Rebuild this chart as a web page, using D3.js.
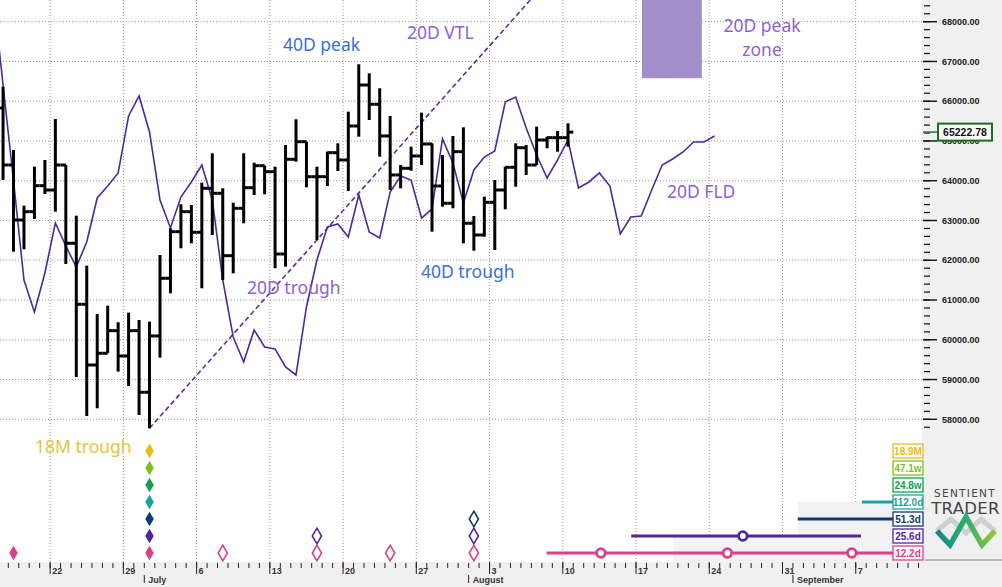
<!DOCTYPE html>
<html>
<head>
<meta charset="utf-8">
<script src="https://cdn.jsdelivr.net/npm/d3@7"></script>
<style>
  html, body { margin: 0; padding: 0; background: #fff; }
  svg { display: block; font-family: "Liberation Sans", Arial, sans-serif; }
</style>
</head>
<body>
<div id="chart"></div>
<script>
(function () {
  // daily bars, the first one is 17 June, open of each bar = previous close
  const firstDay = "2026-06-17";
  const firstOpen = 65830;
  const barHigh = [66365, 64773, 63373, 64354, 64522, 65553, 64396, 63121, 61864, 60649,
    60858, 60440, 60682, 60498, 60455, 62133, 62804, 63408, 63390, 63951,
    64690, 63810, 63448, 64690, 64454, 64379, 64354, 64899, 65546, 64982,
    64354, 64731, 64942, 65737, 66929, 66703, 66325, 65629, 64396, 64857,
    65712, 64942, 64648, 65126, 65344, 63114, 63599, 64019, 64354, 64942,
    64899, 65360, 65108, 65251, 65445];
  const barLow = [64019, 62216, 62276, 63038, 63667, 63222, 61906, 59064, 58084, 58277,
    59661, 59198, 58838, 58109, 57774, 59550, 61169, 62301, 62427, 61295,
    62636, 61504, 61672, 62930, 63642, 63659, 61798, 61839, 64479, 63835,
    62510, 63868, 64245, 63742, 65108, 65528, 64605, 63767, 63810, 64253,
    64396, 62719, 63348, 63307, 62427, 62241, 62593, 62258, 63282, 63850,
    64145, 64396, 64816, 64731, 64857];
  const barClose = [64396, 63013, 63222, 63876, 63767, 64396, 62427, 60893, 59366, 59661,
    60229, 59593, 60229, 58680, 60096, 61547, 62719, 63222, 62704, 63810,
    63684, 62115, 63307, 63825, 64379, 64228, 62158, 64540, 64982, 64102,
    64102, 64706, 64522, 65377, 66408, 65923, 65126, 64145, 64313, 64623,
    64924, 63868, 63433, 64731, 62930, 62636, 63458, 63767, 64338, 64831,
    64396, 65025, 65083, 65083, 65222.78];

  // 20D FLD, one value per day from 16 June
  const fldStart = "2026-06-16";
  const fldValues = [68870, 66408, 64000, 61504, 60699, 61680, 62938, 62359, 61831, 62460,
    63566, 63868, 64195, 65629, 66132, 65226, 63516, 62812, 63591, 63969,
    64396, 63516, 61504, 60070, 59442, 60246, 59819, 59769, 59316, 59115,
    60825, 62007, 62837, 62912, 62585, 63642, 62711, 62560, 63717, 64120,
    64019, 63063, 63290, 65050, 64447, 63441, 64270, 64597, 64748, 65981,
    66106, 65327, 64648, 64069, 64522, 65025, 63818, 63969, 64195, 63868,
    62661, 63088, 63114, 63767, 64396, 64547, 64723, 64975, 64975, 65126];

  // 20D VTL drawn through the lows of these two bars (indices)
  const vtlBars = [14, 30];

  // 20D peak zone
  const peakZoneDays = ["2026-08-17T13:40Z", "2026-08-23T07:00Z"];
  const peakZoneLow = 66580;

  const priceTicks = d3.range(58000, 68001, 1000);
  const priceMinorTicks = d3.range(57800, 68401, 200);

  // cycle rows at the bottom
  const cycleNames = ["18.9M", "47.1w", "24.8w", "112.0d", "51.3d", "25.6d", "12.2d"];
  const cycleColors = ["#e6bd14", "#7cc21f", "#12a04f", "#1aa3a3", "#0f3a72", "#50269a", "#d8408b"];
  const filledTroughs = [["2026-06-18", "12.2d"],
    ["2026-07-01", "18.9M"], ["2026-07-01", "47.1w"], ["2026-07-01", "24.8w"], ["2026-07-01", "112.0d"],
    ["2026-07-01", "51.3d"], ["2026-07-01", "25.6d"], ["2026-07-01", "12.2d"]];
  const hollowTroughs = [["2026-07-08", "12.2d"], ["2026-07-17", "12.2d"], ["2026-07-17", "25.6d"],
    ["2026-07-24", "12.2d"], ["2026-08-01", "12.2d"], ["2026-08-01", "25.6d"], ["2026-08-01", "51.3d"]];
  // projected next troughs: start of line, end of line (missing = to label), circles
  const projStart = { "112.0d": "2026-09-07T14:00Z", "51.3d": "2026-09-01T11:00Z", "25.6d": "2026-08-16T13:00Z", "12.2d": "2026-08-08T11:00Z" };
  const projEnd = { "25.6d": "2026-09-07T12:00Z" };
  const projCircles = [["2026-08-27T05:00Z", "25.6d"], ["2026-08-13T15:30Z", "12.2d"],
    ["2026-08-25T17:30Z", "12.2d"], ["2026-09-06T15:00Z", "12.2d"]];
  const troughZones = [["2026-08-20T13:30Z", "2026-09-01T11:00Z", "25.6d"], ["2026-09-01T11:00Z", null, "112.0d"]];

  const W = 1002, H = 587, plotR = 922, axisY = 562, boxX = 893;
  const day0 = new Date("2026-06-22T00:00Z");

  const x = d3.scaleTime()
    .domain([d3.utcHour.offset(day0, -115), d3.utcHour.offset(day0, 2000)])
    .range([0, plotR]);
  const y = d3.scaleLinear().domain([58000, 68000]).range([419.3, 21.7]);
  const rowY = d3.scalePoint().domain(cycleNames).range([451, 553]);
  const colorOf = d3.scaleOrdinal().domain(cycleNames).range(cycleColors);

  const svg = d3.select("#chart").append("svg").attr("width", W).attr("height", H);

  svg.append("defs").append("clipPath").attr("id", "plotclip")
    .append("rect").attr("width", plotR).attr("height", axisY);

  // panels
  svg.append("rect").attr("x", plotR).attr("y", 0).attr("width", W - plotR).attr("height", H).attr("fill", "#f0f0f0");
  svg.append("rect").attr("x", 0).attr("y", axisY).attr("width", W).attr("height", H - axisY).attr("fill", "#f0f0f0");

  const plot = svg.append("g").attr("clip-path", "url(#plotclip)");

  // grid
  const weeks = d3.utcMonday.range(x.domain()[0], x.domain()[1]);
  plot.selectAll(".hgrid").data(priceTicks).enter().append("line")
    .attr("x1", 0).attr("x2", plotR).attr("y1", (d) => y(d)).attr("y2", (d) => y(d))
    .attr("stroke", "#9a9a9a").attr("stroke-dasharray", "1,2");
  plot.selectAll(".vgrid").data(weeks).enter().append("line")
    .attr("x1", (d) => x(d)).attr("x2", (d) => x(d)).attr("y1", 0).attr("y2", axisY)
    .attr("stroke", "#9a9a9a").attr("stroke-dasharray", "1,2");

  // trough zone shading
  plot.selectAll(".zone").data(troughZones).enter().append("rect")
    .attr("x", (d) => x(new Date(d[0])))
    .attr("y", (d) => rowY(d[2]))
    .attr("width", (d) => (d[1] ? x(new Date(d[1])) : boxX) - x(new Date(d[0])))
    .attr("height", (d) => axisY - rowY(d[2]))
    .attr("fill", "#f2f2f2");

  // peak zone
  plot.append("rect")
    .attr("x", x(new Date(peakZoneDays[0])))
    .attr("y", -5)
    .attr("width", x(new Date(peakZoneDays[1])) - x(new Date(peakZoneDays[0])))
    .attr("height", y(peakZoneLow) + 5)
    .attr("fill", "#a28ec9");

  // bars
  const d0 = new Date(firstDay + "T00:00Z");
  const bars = barHigh.map((h, i) => ({
    date: d3.utcDay.offset(d0, i),
    open: i ? barClose[i - 1] : firstOpen,
    high: h, low: barLow[i], close: barClose[i],
  }));
  const mid = (d) => x(d3.utcHour.offset(d, 12));
  const half = (x(d3.utcDay.offset(day0, 1)) - x(day0)) / 2;

  // VTL
  const a = bars[vtlBars[0]], b = bars[vtlBars[1]];
  const perDay = (b.low - a.low) / (vtlBars[1] - vtlBars[0]);
  const vtlEnd = vtlBars[0] + 60;
  plot.append("line")
    .attr("x1", mid(a.date)).attr("y1", y(a.low))
    .attr("x2", mid(d3.utcDay.offset(d0, vtlEnd)))
    .attr("y2", y(a.low + perDay * (vtlEnd - vtlBars[0])))
    .attr("stroke", "#5a2ea6").attr("stroke-width", 1.6).attr("stroke-dasharray", "5,3");

  // FLD
  const fld0 = new Date(fldStart + "T00:00Z");
  const fldLine = d3.line()
    .x((d, i) => mid(d3.utcDay.offset(fld0, i)))
    .y((d) => y(d));
  plot.append("path").datum(fldValues).attr("d", fldLine)
    .attr("fill", "none").attr("stroke", "#4b2a9c").attr("stroke-width", 1.6);

  const bg = plot.append("g").attr("stroke", "#000").attr("stroke-width", 3);
  bg.selectAll(".hl").data(bars).enter().append("line")
    .attr("x1", (d) => mid(d.date)).attr("x2", (d) => mid(d.date))
    .attr("y1", (d) => y(d.high)).attr("y2", (d) => y(d.low));
  bg.selectAll(".op").data(bars).enter().append("line")
    .attr("x1", (d) => mid(d.date) - half).attr("x2", (d) => mid(d.date))
    .attr("y1", (d) => y(d.open)).attr("y2", (d) => y(d.open));
  bg.selectAll(".cl").data(bars).enter().append("line")
    .attr("x1", (d) => mid(d.date)).attr("x2", (d) => mid(d.date) + half)
    .attr("y1", (d) => y(d.close)).attr("y2", (d) => y(d.close));

  // projection lines
  const proj = plot.append("g");
  Object.keys(projStart).forEach(function (k) {
    proj.append("line")
      .attr("x1", x(new Date(projStart[k])))
      .attr("x2", projEnd[k] ? x(new Date(projEnd[k])) : boxX)
      .attr("y1", rowY(k)).attr("y2", rowY(k))
      .attr("stroke", colorOf(k)).attr("stroke-width", 3);
  });
  proj.selectAll("circle").data(projCircles).enter().append("circle")
    .attr("cx", (d) => x(new Date(d[0]))).attr("cy", (d) => rowY(d[1])).attr("r", 4.3)
    .attr("fill", "#fff").attr("stroke", (d) => colorOf(d[1])).attr("stroke-width", 2.8);

  // trough diamonds
  function diamond(cx, cy, hw, hh) {
    return `M${cx},${cy - hh}L${cx + hw},${cy}L${cx},${cy + hh}L${cx - hw},${cy}Z`;
  }
  plot.selectAll(".hd").data(hollowTroughs).enter().append("path")
    .attr("d", (d) => diamond(mid(new Date(d[0] + "T00:00Z")), rowY(d[1]), 4.6, 7.8))
    .attr("fill", "#fff").attr("stroke", (d) => colorOf(d[1])).attr("stroke-width", 1.6);
  plot.selectAll(".fd").data(filledTroughs).enter().append("path")
    .attr("d", (d) => diamond(mid(new Date(d[0] + "T00:00Z")), rowY(d[1]), 4.3, 7.2))
    .attr("fill", (d) => colorOf(d[1]));

  // cycle label boxes
  const lb = svg.selectAll(".cyc").data(cycleNames).enter().append("g");
  lb.append("rect").attr("x", boxX).attr("y", (d) => rowY(d) - 7).attr("width", 30).attr("height", 14)
    .attr("fill", "#fff").attr("stroke", (d) => colorOf(d)).attr("stroke-width", 1.3);
  lb.append("text").attr("x", boxX + 15).attr("y", (d) => rowY(d) + 3.6)
    .attr("text-anchor", "middle").attr("font-size", 10).attr("font-weight", "bold")
    .attr("fill", (d) => colorOf(d)).text((d) => d);

  // price axis
  const ya = svg.append("g");
  ya.selectAll(".mn").data(priceMinorTicks).enter().append("line")
    .attr("x1", plotR + 2).attr("x2", plotR + 8).attr("y1", (d) => y(d)).attr("y2", (d) => y(d))
    .attr("stroke", "#111").attr("stroke-width", 1.2);
  ya.selectAll(".mj").data(priceTicks).enter().append("line")
    .attr("x1", plotR + 1).attr("x2", plotR + 15).attr("y1", (d) => y(d)).attr("y2", (d) => y(d))
    .attr("stroke", "#111").attr("stroke-width", 1.4);
  ya.selectAll("text").data(priceTicks).enter().append("text")
    .attr("x", plotR + 20).attr("y", (d) => y(d) + 3.2)
    .attr("font-size", 9).attr("font-weight", "bold").attr("fill", "#222")
    .text((d) => d3.format(".2f")(d));

  // last price box
  const last = barClose[barClose.length - 1];
  ya.append("line").attr("x1", plotR + 1).attr("x2", plotR + 16).attr("y1", y(last)).attr("y2", y(last))
    .attr("stroke", "#1d7a1d").attr("stroke-width", 1.5);
  ya.append("rect").attr("x", plotR + 16).attr("y", y(last) - 8.5).attr("width", 54).attr("height", 17)
    .attr("fill", "#fff").attr("stroke", "#1d6b1d").attr("stroke-width", 2);
  ya.append("text").attr("x", plotR + 43).attr("y", y(last) + 3.8).attr("text-anchor", "middle")
    .attr("font-size", 10.5).attr("font-weight", "bold").attr("fill", "#111")
    .text(d3.format(".2f")(last));

  // time axis
  const xa = svg.append("g");
  const days = d3.utcDay.range(x.domain()[0], x.domain()[1]);
  xa.selectAll(".dt").data(days).enter().append("line")
    .attr("x1", (d) => x(d)).attr("x2", (d) => x(d)).attr("y1", axisY + 1).attr("y2", axisY + 6)
    .attr("stroke", "#222").attr("stroke-width", 1);
  xa.selectAll(".wt").data(weeks).enter().append("line")
    .attr("x1", (d) => x(d)).attr("x2", (d) => x(d)).attr("y1", axisY).attr("y2", axisY + 12)
    .attr("stroke", "#222").attr("stroke-width", 1);
  xa.selectAll(".wl").data(weeks).enter().append("text")
    .attr("x", (d) => x(d) + 2).attr("y", axisY + 11.5)
    .attr("font-size", 9).attr("font-weight", "bold").attr("fill", "#333")
    .text(d3.utcFormat("%-d"));
  const months = d3.utcMonth.range(x.domain()[0], x.domain()[1]);
  xa.selectAll(".mt").data(months).enter().append("line")
    .attr("x1", (d) => x(d)).attr("x2", (d) => x(d)).attr("y1", axisY + 13).attr("y2", axisY + 21)
    .attr("stroke", "#222").attr("stroke-width", 1);
  xa.selectAll(".ml").data(months).enter().append("text")
    .attr("x", (d) => x(d) + 4).attr("y", axisY + 21)
    .attr("font-size", 9).attr("font-weight", "bold").attr("fill", "#333")
    .text(d3.utcFormat("%B"));

  // annotations
  const notes = [
    { t: "40D peak", x: 283, y: 51, c: "#3b6fd8" },
    { t: "20D VTL", x: 407, y: 39, c: "#8d63d4" },
    { t: "20D peak", x: 762, y: 32, c: "#8d63d4", anchor: "middle" },
    { t: "zone", x: 762, y: 56, c: "#8d63d4", anchor: "middle" },
    { t: "20D FLD", x: 667, y: 198, c: "#8d63d4" },
    { t: "40D trough", x: 421, y: 278, c: "#3b6fd8" },
    { t: "20D trough", x: 247, y: 294, c: "#8d63d4" },
    { t: "18M trough", x: 35, y: 453, c: "#e6c33a" },
  ];
  svg.selectAll(".note").data(notes).enter().append("text")
    .attr("x", (d) => d.x).attr("y", (d) => d.y)
    .attr("text-anchor", (d) => d.anchor || "start")
    .attr("font-family", "'Noto Sans', 'Open Sans', sans-serif").attr("font-size", 17.5)
    .attr("fill", (d) => d.c).text((d) => d.t);

  // logo
  const logo = svg.append("g");
  logo.append("text").attr("x", 965).attr("y", 497).attr("text-anchor", "middle")
    .attr("font-family", "'DejaVu Sans', sans-serif").attr("font-size", 10.5).attr("letter-spacing", 1.3)
    .attr("fill", "#444").text("SENTIENT");
  logo.append("text").attr("x", 965.5).attr("y", 514).attr("text-anchor", "middle")
    .attr("font-family", "'DejaVu Sans', sans-serif").attr("font-size", 16.5).attr("letter-spacing", 0.3)
    .attr("fill", "#444").text("TRADER");
  const grad = svg.select("defs").append("linearGradient").attr("id", "lg");
  grad.append("stop").attr("offset", "0%").attr("stop-color", "#14858f");
  grad.append("stop").attr("offset", "50%").attr("stop-color", "#2eae6a");
  grad.append("stop").attr("offset", "100%").attr("stop-color", "#94c83d");
  logo.append("path").attr("d", "M937,531L951,519L966,533L981,519L995,531")
    .attr("fill", "none").attr("stroke", "#cfcfcf").attr("stroke-width", 5);
  logo.append("path").attr("d", "M937,531L950,545L966,517L982,545L995,531")
    .attr("fill", "none").attr("stroke", "url(#lg)").attr("stroke-width", 5.5);
  logo.append("line").attr("x1", 925).attr("x2", W).attr("y1", 560).attr("y2", 560)
    .attr("stroke", "#888").attr("stroke-width", 1);
})();
</script>
</body>
</html>
